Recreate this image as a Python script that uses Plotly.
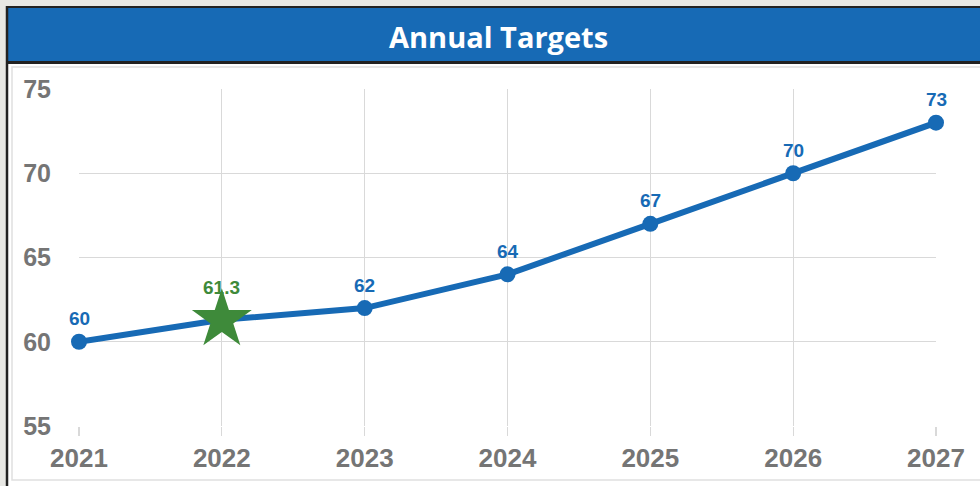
import plotly.graph_objects as go

years = [2021, 2022, 2023, 2024, 2025, 2026, 2027]
targets = [60, 61.3, 62, 64, 67, 70, 73]
labels = ["60", "61.3", "62", "64", "67", "70", "73"]
highlight_year = 2022
highlight_value = 61.3
y_ticks = [55, 60, 65, 70, 75]

W, H = 980, 486
BLUE = "#176AB5"
GREEN = "#3E8A3A"
GRAY_TXT = "#757575"
GRID = "#D9D9D9"

def px_x(p):
    return p / W

def px_y(p):
    return 1 - p / H

fig = go.Figure()

fig.add_trace(go.Scatter(
    x=years, y=targets, mode="lines+markers",
    line=dict(color=BLUE, width=6),
    marker=dict(color=BLUE, size=16),
    hoverinfo="skip", showlegend=False, cliponaxis=False,
))
fig.add_trace(go.Scatter(
    x=[highlight_year], y=[highlight_value], mode="markers",
    marker=dict(symbol="star", color=GREEN, size=45, line=dict(width=0)),
    hoverinfo="skip", showlegend=False, cliponaxis=False,
))

for yr, v, t in zip(years, targets, labels):
    is_hi = yr == highlight_year
    fig.add_annotation(
        x=yr, y=v, text=t, showarrow=False,
        yshift=32 if is_hi else 23,
        font=dict(family="Liberation Sans, Arial", size=19,
                  color=GREEN if is_hi else BLUE, weight="bold"),
    )

shapes = [
    dict(type="rect", xref="paper", yref="paper", x0=0, x1=1, y0=0, y1=1,
         fillcolor="#E8E8E4", line=dict(width=0), layer="below"),
    dict(type="rect", xref="paper", yref="paper", x0=px_x(8), x1=1, y0=0, y1=px_y(7),
         fillcolor="white", line=dict(width=0), layer="below"),
    dict(type="rect", xref="paper", yref="paper", x0=px_x(12), x1=1.01, y0=px_y(480), y1=px_y(67),
         fillcolor="rgba(0,0,0,0)", line=dict(color="#E0E0E0", width=1.5), layer="below"),
    dict(type="rect", xref="paper", yref="paper", x0=px_x(8), x1=1, y0=px_y(62), y1=px_y(7),
         fillcolor=BLUE, line=dict(width=0), layer="below"),
    dict(type="line", xref="paper", yref="paper", x0=px_x(7), x1=1, y0=px_y(7), y1=px_y(7),
         line=dict(color="#222222", width=2), layer="below"),
    dict(type="line", xref="paper", yref="paper", x0=px_x(7), x1=1, y0=px_y(62.5), y1=px_y(62.5),
         line=dict(color="#222222", width=3), layer="below"),
    dict(type="line", xref="paper", yref="paper", x0=px_x(7), x1=px_x(7), y0=0, y1=px_y(6),
         line=dict(color="#222222", width=2.5), layer="below"),
]

fig.update_layout(
    width=W, height=H,
    margin=dict(l=0, r=0, t=0, b=0, pad=0, autoexpand=False),
    paper_bgcolor="white", plot_bgcolor="white",
    shapes=shapes,
    annotations=list(fig.layout.annotations) + [dict(
        xref="paper", yref="paper", x=px_x(498), y=px_y(36), text="Annual Targets",
        showarrow=False, yanchor="middle",
        font=dict(family="Open Sans", size=29, color="white", weight="bold"),
    )],
    xaxis=dict(
        domain=[px_x(79), px_x(936)], range=[2021, 2027],
        tickmode="array", tickvals=years, ticktext=[str(y) for y in years],
        showgrid=True, gridcolor=GRID, gridwidth=1.2,
        ticks="outside", ticklen=9, tickcolor=GRID, tickwidth=1.2,
        showline=False, zeroline=False,
        tickfont=dict(family="Liberation Sans, Arial", size=26, color=GRAY_TXT, weight="bold"),
        ticklabelstandoff=0,
    ),
    yaxis=dict(
        domain=[px_y(426), px_y(89)], range=[55, 75],
        tickmode="array", tickvals=y_ticks,
        showgrid=True, gridcolor=GRID, gridwidth=1.2,
        ticks="", showline=False, zeroline=False,
        tickfont=dict(family="Liberation Sans, Arial", size=25, color=GRAY_TXT, weight="bold"),
        ticklabelstandoff=27,
    ),
)

fig.write_html(
    "out.html",
    config={"displayModeBar": False, "staticPlot": True},
    post_script="document.body.style.margin='0px';document.body.style.overflow='hidden';",
)
